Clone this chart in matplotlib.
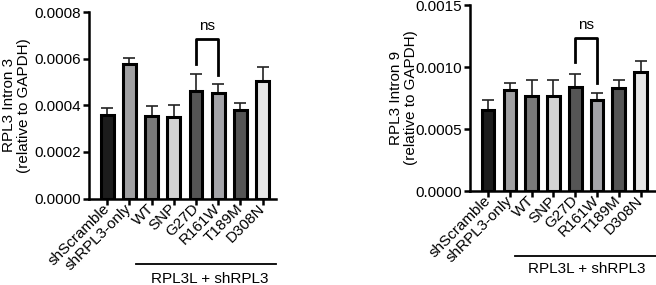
import matplotlib
matplotlib.use("Agg")
import matplotlib.pyplot as plt
import matplotlib.transforms as mtransforms

plt.rcParams['font.family'] = ['Liberation Sans', 'DejaVu Sans']
plt.rcParams['font.size'] = 11

# data
groups = ["shScramble", "shRPL3-only", "WT", "SNP", "G27D", "R161W", "T189M", "D308N"]
colors = ["#1c1c1c", "#a0a0a2", "#7a7a7a", "#d3d3d3", "#555555", "#a3a3a8", "#555555", "#e6e6e6"]

intron3_mean = [0.000357, 0.000577, 0.000354, 0.000350, 0.000462, 0.000452, 0.000379, 0.000504]
intron3_sem = [0.000033, 0.000028, 0.000043, 0.000052, 0.000073, 0.000039, 0.000032, 0.000061]

intron9_mean = [0.000651, 0.000818, 0.000766, 0.000764, 0.000836, 0.000731, 0.000830, 0.000960]
intron9_sem = [0.000080, 0.000051, 0.000129, 0.000129, 0.000110, 0.000057, 0.000065, 0.000091]

fig = plt.figure(figsize=(6.56, 2.85), dpi=100)
ax1 = fig.add_axes([0.1357, 0.3035, 0.285, 0.654])
ax2 = fig.add_axes([0.7165, 0.3298, 0.2835, 0.6526])


def draw(ax, mean, sem, ylim, yticks, fmt, ylabel, label_x, xlim, bracket, line_y, text_y, line_x, text_x):
    x = list(range(len(groups)))
    ax.errorbar(x, mean, yerr=[[0] * len(sem), sem], fmt="none", ecolor="#222222",
                elinewidth=1.2, capsize=4, capthick=1.2, zorder=1)
    ax.bar(x, mean, width=0.58, color=colors, edgecolor="black", linewidth=2.2, zorder=2)
    ax.set_xlim(*xlim)
    ax.set_ylim(*ylim)
    ax.set_yticks(yticks)
    ax.set_yticklabels([fmt.format(v) for v in yticks])
    ax.set_xticks(x)
    ax.set_xticklabels(groups, rotation=45, ha="right", va="center", rotation_mode="anchor")
    for lab in ax.get_xticklabels():
        lab.set_transform(lab.get_transform() + mtransforms.ScaledTranslation(0.08, -0.05, fig.dpi_scale_trans))
    for s in ["top", "right"]:
        ax.spines[s].set_visible(False)
    for s in ["left", "bottom"]:
        ax.spines[s].set_linewidth(1.8)
    ax.tick_params(width=1.8, length=4.5, pad=1)
    ax.set_ylabel(ylabel, linespacing=1.1, va="center")
    ax.yaxis.set_label_coords(label_x, 0.5)

    # ns bracket between G27D and R161W
    top, left_end, right_end, ns_y = bracket
    ax.plot([4, 4, 5, 5], [left_end, top, top, right_end], color="black", lw=2.0, clip_on=False)
    ax.text(4.5, ns_y, "ns", ha="center", va="center")

    # group line under labels
    trans = mtransforms.blended_transform_factory(ax.transData, ax.transAxes)
    ax.plot(line_x, [line_y, line_y], color="black", lw=1.3, transform=trans, clip_on=False)
    ax.text(text_x, text_y, "RPL3L + shRPL3", ha="center", va="center", transform=trans)


draw(ax1, intron3_mean, intron3_sem, (0, 0.0008), [0, 0.0002, 0.0004, 0.0006, 0.0008],
     "{:.4f}", "RPL3 Intron 3\n(relative to GAPDH)", -0.39, (-0.82, 7.6),
     (0.000683, 0.000576, 0.000530, 0.00074), -0.351, -0.43, [1.3, 7.6], 4.63)
draw(ax2, intron9_mean, intron9_sem, (0, 0.0015), [0, 0.0005, 0.0010, 0.0015],
     "{:.4f}", "RPL3 Intron 9\n(relative to GAPDH)", -0.36, (-0.83, 7.71),
     (0.001236, 0.001043, 0.000869, 0.001339), -0.348, -0.42, [1.24, 7.71], 4.54)

fig.savefig("out.png", dpi=100)
